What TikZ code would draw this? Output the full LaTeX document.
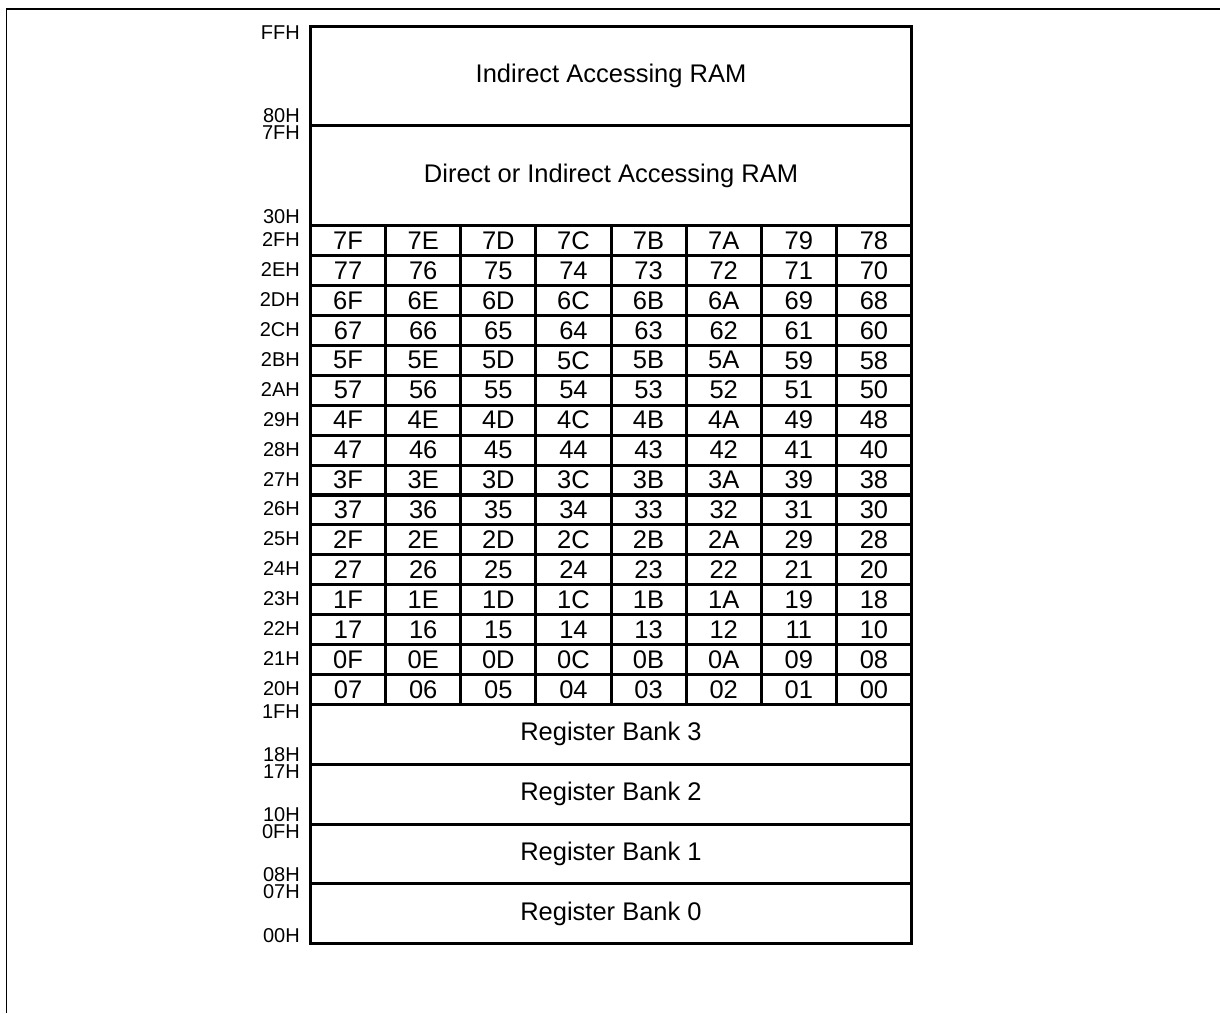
\documentclass[tikz,border=0pt]{standalone}
\usepackage{fontspec}
\setmainfont{Liberation Sans}
\newcommand\mybigfont{\fontsize{25.5}{30}\selectfont}
\newcommand\mysmallfont{\fontsize{20}{23}\selectfont}
\begin{document}
\begin{tikzpicture}[x=1pt,y=-1pt,
  region/.style={draw, line width=3pt, minimum width=601pt, inner sep=0pt, anchor=north west, font=\mybigfont},
  cell/.style={draw, line width=3pt, minimum width=75.125pt, minimum height=30pt, inner sep=0pt, anchor=north west, font=\mybigfont},
  lab/.style={inner sep=0pt, font=\mysmallfont, anchor=base east},
  frameline/.style={line width=1.5pt}]
\useasboundingbox (0,0) rectangle (1220,1013);
\draw[frameline] (6.5,1013) -- (6.5,9) -- (1220,9);
% upper regions
\node[region, minimum height=99pt] (ind) at (309,25) {Indirect Accessing RAM};
\node[region, minimum height=100pt] (dir) at (309,124) {Direct or Indirect Accessing RAM};
% bit-addressable grid
\foreach \lab/\vals [count=\r from 0] in {
  2FH/{7F,7E,7D,7C,7B,7A,79,78},
  2EH/{77,76,75,74,73,72,71,70},
  2DH/{6F,6E,6D,6C,6B,6A,69,68},
  2CH/{67,66,65,64,63,62,61,60},
  2BH/{5F,5E,5D,5C,5B,5A,59,58},
  2AH/{57,56,55,54,53,52,51,50},
  29H/{4F,4E,4D,4C,4B,4A,49,48},
  28H/{47,46,45,44,43,42,41,40},
  27H/{3F,3E,3D,3C,3B,3A,39,38},
  26H/{37,36,35,34,33,32,31,30},
  25H/{2F,2E,2D,2C,2B,2A,29,28},
  24H/{27,26,25,24,23,22,21,20},
  23H/{1F,1E,1D,1C,1B,1A,19,18},
  22H/{17,16,15,14,13,12,11,10},
  21H/{0F,0E,0D,0C,0B,0A,09,08},
  20H/{07,06,05,04,03,02,01,00}} {
  \node[lab] (rl\r) at (300,{224+29.94*\r+22.5}) {\lab};
  \foreach \v [count=\c from 0] in \vals {
    \node[cell] (c\r-\c) at ({309+75.125*\c},{224+29.94*\r}) {\v};
  }
}
% register banks
\node[region, minimum height=59.75pt] (b3) at (309,703) {Register Bank 3};
\node[region, minimum height=59.75pt] (b2) at (309,762.75) {Register Bank 2};
\node[region, minimum height=59.75pt] (b1) at (309,822.5) {Register Bank 1};
\node[region, minimum height=59.75pt] (b0) at (309,882.25) {Register Bank 0};
% boundary labels
\node[lab] (lFF) at (300,39) {FFH};
\node[lab] (l80) at (300,122.5) {80H};
\node[lab] (l7F) at (300,139.5) {7FH};
\node[lab] (l30) at (300,223) {30H};
\node[lab] (l1F) at (300,718.5) {1FH};
\node[lab] (l18) at (300,761.5) {18H};
\node[lab] (l17) at (300,778) {17H};
\node[lab] (l10) at (300,821.5) {10H};
\node[lab] (l0F) at (300,838) {0FH};
\node[lab] (l08) at (300,881.5) {08H};
\node[lab] (l07) at (300,898) {07H};
\node[lab] (l00) at (300,942) {00H};
\end{tikzpicture}
\end{document}
